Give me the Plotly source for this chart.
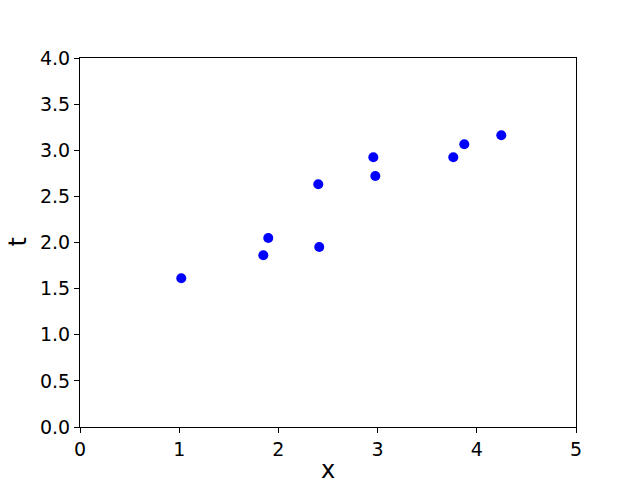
import plotly.graph_objects as go

x_vals = [1.021, 1.848, 1.898, 2.402, 2.412, 2.957, 2.977, 3.763, 3.874, 4.247]
t_vals = [1.612, 1.861, 2.049, 2.631, 1.951, 2.924, 2.721, 2.924, 3.065, 3.162]
x_ticks = [0, 1, 2, 3, 4, 5]
y_ticks = [0.0, 0.5, 1.0, 1.5, 2.0, 2.5, 3.0, 3.5, 4.0]

fig = go.Figure()
fig.add_trace(go.Scatter(x=x_vals, y=t_vals, mode="markers",
                         marker=dict(color="blue", size=10, line=dict(width=0))))

axis_common = dict(showgrid=False, zeroline=False, showline=True, linecolor="black",
                   linewidth=1, mirror=True, ticks="outside", ticklen=5, tickwidth=1,
                   tickcolor="black", tickfont=dict(size=19, color="black"),
                   automargin=False)

# page body has an 8px margin, so the figure is 8px smaller on each side
fig.update_layout(
    width=632, height=472,
    margin=dict(l=72, r=64, t=50, b=53),
    paper_bgcolor="white", plot_bgcolor="white",
    font=dict(family="DejaVu Sans", color="black"),
    showlegend=False,
    xaxis=dict(range=[0, 5], tickvals=x_ticks, ticktext=[str(v) for v in x_ticks],
               **axis_common),
    yaxis=dict(range=[0, 4], tickvals=y_ticks, ticktext=[f"{v:.1f}" for v in y_ticks],
               **axis_common),
    annotations=[
        dict(text="x", xref="paper", yref="paper", x=0.5, y=0, xanchor="center",
             yanchor="middle", yshift=-43, showarrow=False, font=dict(size=24)),
        dict(text="t", xref="paper", yref="paper", x=0, y=0.5, xanchor="center",
             yanchor="middle", xshift=-63, textangle=-90, showarrow=False,
             font=dict(size=24)),
    ],
)

fig.write_html("out.html")
